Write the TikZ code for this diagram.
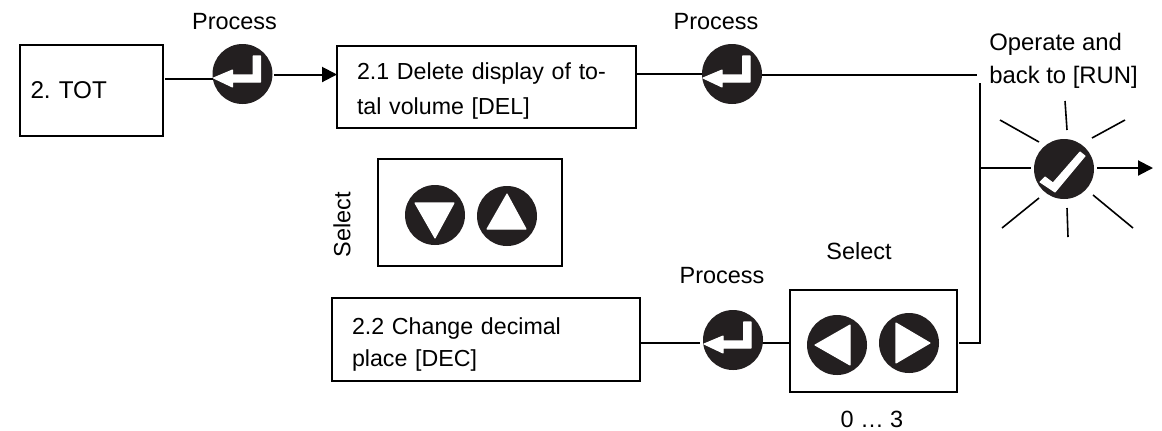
\documentclass[tikz,border=0pt]{standalone}
\usepackage{fontspec}
\setmainfont{Liberation Sans}
\usetikzlibrary{arrows.meta}
\definecolor{ink}{HTML}{231F20}
\tikzset{
  x=0.75pt,y=-0.75pt,
  boxnode/.style={draw=black,line width=1.5pt,anchor=north west,outer sep=0pt,inner sep=0pt,font=\fontsize{17.4pt}{26.25pt}\selectfont\frenchspacing,align=left},
  keybtn/.style={circle,fill=ink,minimum size=45pt,inner sep=0pt,outer sep=0pt},
  glyph/.style={fill=white,draw=white,line width=0.8pt,line join=round},
  label/.style={font=\fontsize{17.6pt}{24.75pt}\selectfont\frenchspacing,inner sep=0pt},
  conn/.style={line width=1.5pt,draw=black},
  arrowconn/.style={conn,-{Triangle[length=11.25pt,width=11.25pt]}},
  ray/.style={line width=1.2pt,draw=black}
}
\newcommand{\enterglyph}[1]{\path[glyph,shift={(#1.center)}] (-29,4) -- (-10,-4) -- (-10,1) -- (10.7,1) -- (10.7,-18) -- (18,-18) -- (18,8) -- (-10,8) -- (-10,13) -- cycle;}
\begin{document}
\begin{tikzpicture}
\useasboundingbox (0,0) rectangle (1162,430);
% boxes
\node[boxnode,minimum width=107.25pt,minimum height=68.25pt,font=\fontsize{18.2pt}{22pt}\selectfont\frenchspacing,text width=91.5pt] (tot) at (20,45) {2. TOT};
\node[boxnode,minimum width=224.25pt,minimum height=61.5pt,text width=194.25pt] (del) at (337,46) {\rule{0pt}{18.6pt}2.1 Delete display of to-\\tal volume [DEL]};
\node[boxnode,minimum width=138pt,minimum height=80.25pt] (selv) at (378,159) {};
\node[boxnode,minimum width=231pt,minimum height=62.25pt,text width=201pt,font=\fontsize{17.4pt}{24pt}\selectfont\frenchspacing] (dec) at (332,298) {\rule{0pt}{20pt}2.2 Change decimal\\place [DEC]};
\node[boxnode,minimum width=125.25pt,minimum height=76.5pt] (selh) at (790,290) {};
% keys
\node[keybtn] (k1) at (242.5,74) {};
\node[keybtn] (k2) at (732,74) {};
\node[keybtn] (k3) at (733,340) {};
\node[keybtn] (kd) at (435,215) {};
\node[keybtn] (ku) at (507,216) {};
\node[keybtn] (kl) at (837,345) {};
\node[keybtn] (kr) at (909,343) {};
\node[keybtn] (ok) at (1064,169) {};
\enterglyph{k1}\enterglyph{k2}\enterglyph{k3}
\path[glyph,shift={(kd.center)}] (-20,-12) -- (19,-12) -- (0,23) -- cycle;
\path[glyph,shift={(ku.center)}] (0,-22) -- (-20,13) -- (19,13) -- cycle;
\path[glyph,shift={(kl.center)}] (-22,0) -- (13,-20) -- (13,20) -- cycle;
\path[glyph,shift={(kr.center)}] (21,0) -- (-13,-20) -- (-13,20) -- cycle;
\path[glyph,shift={(ok.center)}] (-24,13) -- (-19,8) -- (-11,14) -- (16,-17) -- (21,-13) -- (-9,23) -- cycle;
% labels
\node[label] (p1) at (234.5,22) {Process};
\node[label] (p2) at (716,22) {Process};
\node[label] (p3) at (722,276) {Process};
\node[label] (s1) at (859,251) {Select};
\node[label] (s2) at (872,419) {0 … 3};
\node[label,rotate=90] (s3) at (342,224.5) {Select};
\node[label,anchor=west,align=left,font=\fontsize{17.9pt}{24.75pt}\selectfont\frenchspacing] (op) at (989,61) {Operate and\\back to [RUN]};
% junction points
\coordinate (j1) at (213,79);
\coordinate (j2) at (274,74.5);
\coordinate (top) at (979.5,83);
\coordinate (bot) at (979.5,343);
\coordinate (mid) at (979.5,168);
% connectors
\draw[conn] (tot.east |- j1) ++(2,0) -- (j1);
\draw[arrowconn] (j2) -- (del.west |- j2);
\draw[conn] (del.east |- k2) -- (k2.west);
\draw[conn] (k2.east) ++(0,1) -- (977,75);
\draw[conn] (top) -- (bot) -- (959,343);
\draw[conn] (dec.east |- 700,343) -- (700,343);
\draw[conn] (k3.east |- 763,343) -- (selh.west |- 763,343);
\draw[conn] (mid) -- (1031,168);
\draw[arrowconn] (1097,168) -- (1153,168);
% rays
\draw[ray] (1065,101) -- (1067,130);
\draw[ray] (1125,120) -- (1092,138);
\draw[ray] (1000,120) -- (1039,142);
\draw[ray] (1002,228) -- (1039,198);
\draw[ray] (1133,228) -- (1093,195);
\draw[ray] (1067,208) -- (1068,237);
\end{tikzpicture}
\end{document}
